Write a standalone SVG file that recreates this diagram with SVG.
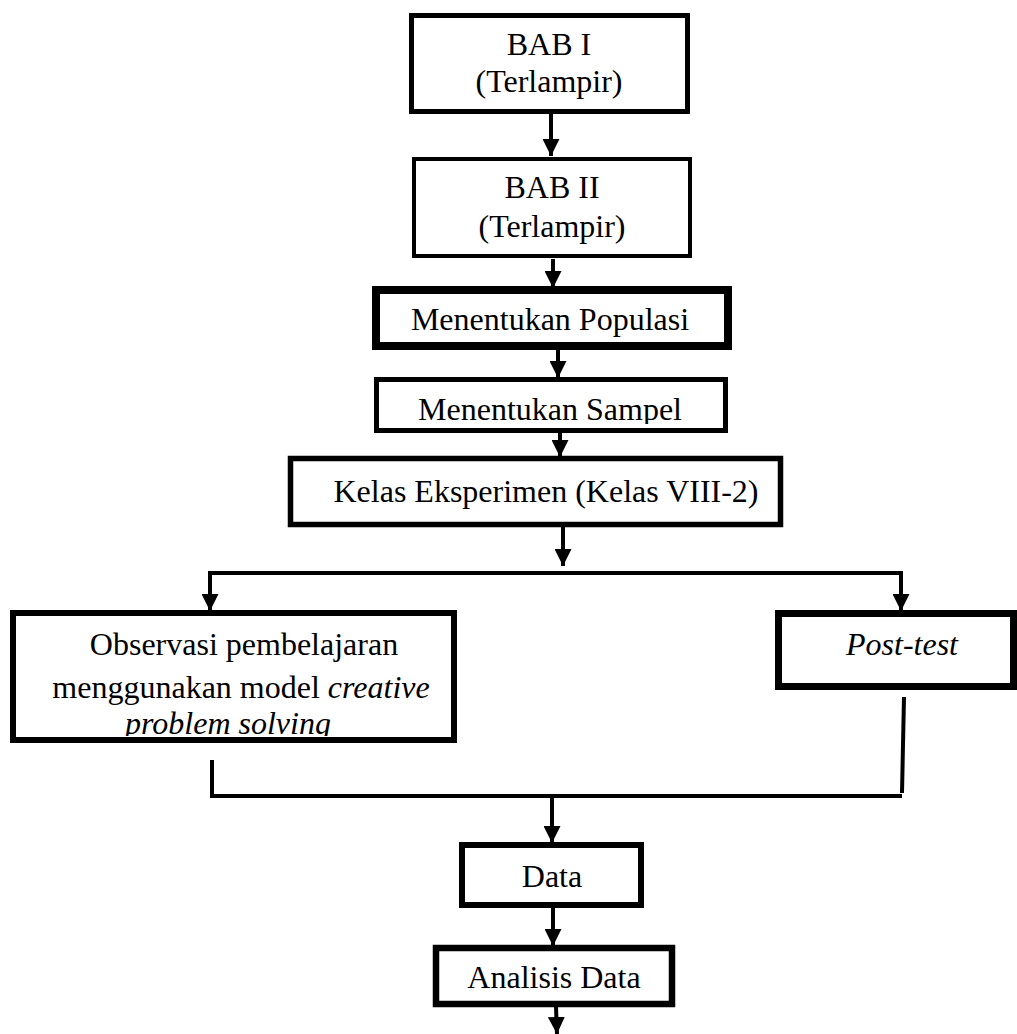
<svg xmlns="http://www.w3.org/2000/svg" width="1017" height="1034" viewBox="0 0 1017 1034">
<style>
.box{fill:#fff;stroke:#000}
.t{font-family:"Liberation Serif","Times New Roman",serif;font-size:32px;fill:#000;text-anchor:middle}
.i{font-style:italic}
.c{fill:none;stroke:#000;stroke-width:4}
</style>
<defs>
<marker id="ah" markerUnits="userSpaceOnUse" markerWidth="18" markerHeight="17" refX="17" refY="8.5" orient="auto">
<path d="M0,0 L17,8.5 L0,17 z" fill="#000"/>
</marker>
<clipPath id="clipSampel"><rect x="380" y="382" width="344" height="42"/></clipPath>
<clipPath id="clipObs"><rect x="16" y="616" width="435" height="120"/></clipPath>
</defs>
<rect width="1017" height="1034" fill="#fff"/>
<g id="connectors">
<line class="c" x1="551" y1="114" x2="551" y2="156" marker-end="url(#ah)"/>
<line class="c" x1="553" y1="259" x2="553" y2="288" marker-end="url(#ah)"/>
<line class="c" x1="558" y1="350" x2="558" y2="378" marker-end="url(#ah)"/>
<line class="c" x1="560" y1="433" x2="560" y2="457" marker-end="url(#ah)"/>
<line class="c" x1="563" y1="527" x2="563" y2="566" marker-end="url(#ah)"/>
<polyline class="c" points="208,573 903,573"/>
<line class="c" x1="210" y1="573" x2="210" y2="611" marker-end="url(#ah)"/>
<line class="c" x1="901" y1="573" x2="901" y2="611" marker-end="url(#ah)"/>
<polyline class="c" points="212,760 212,796 902,796"/>
<line class="c" x1="904" y1="697" x2="902" y2="793"/>
<line class="c" x1="552" y1="796" x2="552" y2="843" marker-end="url(#ah)"/>
<line class="c" x1="553" y1="908" x2="553" y2="946" marker-end="url(#ah)"/>
<line class="c" x1="556" y1="1007" x2="557" y2="1034" marker-end="url(#ah)"/>
</g>
<g id="bab1">
<rect class="box" x="411.5" y="15.5" width="276" height="96" stroke-width="5"/>
<text class="t" x="549" y="55">BAB I</text>
<text class="t" x="549" y="92">(Terlampir)</text>
</g>
<g id="bab2">
<rect class="box" x="414" y="159" width="276" height="97" stroke-width="4"/>
<text class="t" x="552" y="198">BAB II</text>
<text class="t" x="552" y="237">(Terlampir)</text>
</g>
<g id="populasi">
<rect class="box" x="376" y="290" width="352" height="56" stroke-width="8"/>
<text class="t" x="550" y="330">Menentukan Populasi</text>
</g>
<g id="sampel">
<rect class="box" x="376.5" y="379.5" width="349" height="51" stroke-width="5"/>
<text class="t" x="550" y="420" clip-path="url(#clipSampel)">Menentukan Sampel</text>
</g>
<g id="kelas">
<rect class="box" x="290.5" y="458.5" width="490" height="66" stroke-width="5.5"/>
<text class="t" x="546" y="502">Kelas Eksperimen (Kelas VIII-2)</text>
</g>
<g id="observasi">
<rect class="box" x="13" y="613" width="441" height="127" stroke-width="6"/>
<g clip-path="url(#clipObs)">
<text class="t" x="244" y="655">Observasi pembelajaran</text>
<text class="t" x="241" y="698">menggunakan model <tspan class="i">creative</tspan></text>
<text class="t i" x="228" y="734">problem solving</text>
</g>
</g>
<g id="posttest">
<rect class="box" x="778.5" y="613.5" width="235" height="73" stroke-width="7"/>
<text class="t i" x="902" y="655">Post-test</text>
</g>
<g id="data">
<rect class="box" x="462" y="845" width="179" height="60" stroke-width="6"/>
<text class="t" x="552" y="887">Data</text>
</g>
<g id="analisis">
<rect class="box" x="436" y="948" width="236" height="56" stroke-width="6.5"/>
<text class="t" x="554" y="988">Analisis Data</text>
</g>
</svg>
